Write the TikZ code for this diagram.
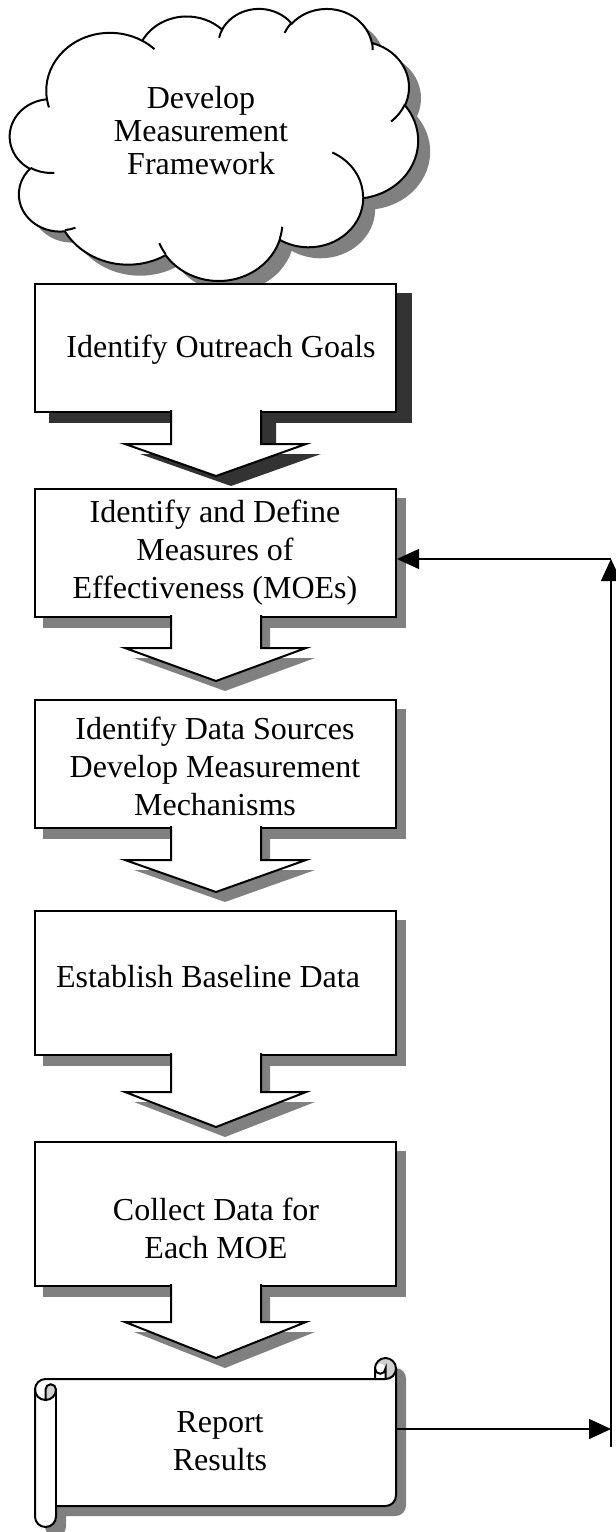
\documentclass[tikz,border=0pt]{standalone}
\usepackage{fontspec}
\setmainfont{Liberation Serif}
\usetikzlibrary{arrows.meta}
\pgfdeclarelayer{bg}
\pgfsetlayers{bg,main}
\definecolor{shgray}{HTML}{808080}
\definecolor{shdark}{HTML}{333333}
\definecolor{curlgray}{HTML}{D0D0D0}
% elliptic arc in DrawingML style (visual angles, degrees)
\newcommand\cldarc[4]{%
  \pgfmathsetmacro\cldA{atan2((#1)*sin(#3),(#2)*cos(#3))}%
  \pgfmathsetmacro\cldA{\cldA+360*round(((#3)-\cldA)/360)}%
  \pgfmathsetmacro\cldB{atan2((#1)*sin((#3)+(#4)),(#2)*cos((#3)+(#4)))}%
  \pgfmathsetmacro\cldB{\cldB+360*round(((#3)+(#4)-\cldB)/360)}%
  \xdef\cldS{\cldA}\xdef\cldE{\cldB}}
\newcommand\carc[4]{\pgfextra{\cldarc{#1}{#2}{#3}{#4}} arc[x radius=#1, y radius=#2, start angle=\cldS, end angle=\cldE]}
\newcommand\cloudoutline[1]{%
 \path[#1] (39.00,143.70)
  \carc{67.53}{91.90}{-190.48748}{123.78053}
  \carc{53.33}{72.67}{-144.10238}{89.94523}
  \carc{43.65}{59.45}{-145.80792}{99.72302}
  \carc{48.57}{65.95}{-130.98607}{117.24173}
  \carc{53.33}{72.73}{-78.70888}{109.02692}
  \carc{67.75}{92.20}{-46.26725}{130.269}
  \carc{57.85}{78.67}{0.62502}{114.03333}
  \carc{67.52}{92.15}{22.4516}{115.17255}
  \carc{77.20}{105.43}{66.24263}{75.71102}
  \carc{43.60}{59.18}{-274.94208}{146.73557}
  \carc{43.45}{59.45}{-246.8285}{152.51885}
  -- cycle;}
\newcommand\cloudinner[1]{%
 \path[#1] (46.93,261.77) \carc{43.45}{59.45}{86.742}{26.4295}
  (69.28,348.99) \carc{43.60}{59.18}{73.61047}{11.44747}
  (164.78,390.90) \carc{67.52}{92.15}{137.62415}{14.0811}
  (288.27,347.51) \carc{67.52}{92.15}{6.45327}{15.99835}
  (341.29,229.54) \carc{57.85}{78.67}{-70.29235}{70.91737}
  (417.98,153.54) \carc{53.33}{72.73}{30.31803}{27.7515}
  (383.24,54.26) \carc{48.57}{65.95}{-13.74433}{14.86223}
  (290.78,39.52) \carc{48.57}{65.95}{-149.18145}{18.19537}
  (221.41,47.20) \carc{43.65}{59.45}{-163.49427}{17.68635}
  (140.00,51.92) \carc{67.53}{91.90}{-66.70695}{12.31935}
  (41.27,157.89) \carc{67.53}{91.90}{157.65435}{11.85817};}
% block arrow: stem top, stem bottom, tip
\newcommand\darrow[4]{\path[#1] (171,#2) -- (171,#3) -- (125,#3) -- (216,#4) -- (306,#3) -- (261,#3) -- (261,#2);}
\newcommand\scrolloutline[1]{\path[#1] (35,1389.5) arc[start angle=180,end angle=270,radius=10.5]
  -- (375,1379) -- (375,1368.5) arc[start angle=180,end angle=360,radius=10.5]
  -- (396,1495.5) arc[start angle=0,end angle=90,radius=10.5]
  -- (56,1506) -- (56,1516.5) arc[start angle=0,end angle=180,radius=10.5] -- cycle;}
\tikzset{
 stepbox/.style={draw=black, line width=1pt, fill=white, inner sep=0pt, minimum width=180.5pt},
 txt/.style={align=center, font=\fontsize{16}{19}\selectfont, inner sep=0pt},
 blockarrow/.style={fill=white, draw=black, line width=1pt, line join=miter},
 conn/.style={line width=0.7pt, draw=black},
 arrowend/.style={-{Triangle[length=11pt,width=10pt]}},
 outl/.style={draw=black, line width=1pt},
}
\begin{document}
\begin{tikzpicture}[x=0.5pt,y=-0.5pt]
\useasboundingbox (0,0) rectangle (616,1532);
% ---- cloud
\begin{scope}[shift={(22,19)},xscale=0.94444,yscale=0.62963]
 \cloudoutline{fill=shgray}
\end{scope}
\begin{scope}[shift={(10,8)},xscale=0.94444,yscale=0.62963]
 \cloudoutline{fill=white,outl}
 \cloudinner{outl}
\end{scope}
\node[txt,font=\fontsize{16}{16.5}\selectfont] (cloud) at (201,131) {Develop\\Measurement\\Framework};
% ---- boxes
\node[stepbox, minimum height=64pt] (b1) at (215.5,348) {};
\node[stepbox, minimum height=64pt] (b2) at (215.5,553) {};
\node[stepbox, minimum height=64pt] (b3) at (215.5,764) {};
\node[stepbox, minimum height=72pt] (b4) at (215.5,983) {};
\node[stepbox, minimum height=72pt] (b5) at (215.5,1214) {};
\begin{pgfonlayer}{bg}
 \fill[shdark] ([shift={(15,10)}]b1.north west) rectangle ([shift={(15,10)}]b1.south east);
 \foreach \b in {b2,b3,b4,b5}
  \fill[shgray] ([shift={(9,10)}]\b.north west) rectangle ([shift={(9,10)}]\b.south east);
 \darrow{fill=shdark,shift={(15,10)}}{410}{444}{476}
 \darrow{fill=shgray,shift={(9,10)}}{615}{648}{681}
 \darrow{fill=shgray,shift={(9,10)}}{826}{860}{892}
 \darrow{fill=shgray,shift={(9,10)}}{1053}{1092}{1127}
 \darrow{fill=shgray,shift={(9,10)}}{1284}{1322}{1358}
 \scrolloutline{fill=shgray,shift={(10,10)}}
\end{pgfonlayer}
% ---- block arrows
\darrow{blockarrow}{410}{444}{476}
\darrow{blockarrow}{615}{648}{681}
\darrow{blockarrow}{826}{860}{892}
\darrow{blockarrow}{1053}{1092}{1127}
\darrow{blockarrow}{1284}{1322}{1358}
% ---- texts
\node[txt] (t1) at (221,350) {Identify Outreach Goals};
\node[txt] (t2) at (215,553) {Identify and Define\\Measures of\\Effectiveness (MOEs)};
\node[txt] (t3) at (215,766) {Identify Data Sources\\Develop Measurement\\Mechanisms};
\node[txt] (t4) at (208,977) {Establish Baseline Data};
\node[txt] (t5) at (216,1228) {Collect Data for\\Each MOE};
% ---- scroll
\scrolloutline{fill=white}
\path[fill=curlgray] (45.5,1400) arc[start angle=90,end angle=0,radius=10.5]
  arc[start angle=0,end angle=-180,radius=5.25] -- cycle;
\path[fill=curlgray] (385.5,1379) arc[start angle=90,end angle=-180,radius=10.5]
  arc[start angle=180,end angle=360,radius=5.25] -- cycle;
\scrolloutline{outl}
\draw[outl] (375,1379) -- (385.5,1379) arc[start angle=90,end angle=0,radius=10.5];
\draw[outl] (385.5,1379) -- (385.5,1368.5) arc[start angle=0,end angle=180,radius=5.25];
\draw[outl] (45.5,1400) -- (45.5,1389.5) arc[start angle=180,end angle=360,radius=5.25]
  arc[start angle=0,end angle=180,radius=10.5];
\draw[outl] (56,1389.5) -- (56,1506);
\node[inner sep=0pt, outer sep=0pt, minimum width=180.5pt, minimum height=10pt] (scroll) at (215.5,1429) {};
\node[txt] (rep) at (220,1441) {Report\\Results};
% ---- feedback connector
\coordinate (c0) at (611,1447);
\coordinate (c1) at (611,1429);
\coordinate (c2) at (611,559);
\draw[conn,arrowend] (scroll.east) -- (c1);
\draw[conn,arrowend] (c0) -- (c2);
\draw[conn,arrowend] (c2) -- (b2.east |- c2);
\end{tikzpicture}
\end{document}
